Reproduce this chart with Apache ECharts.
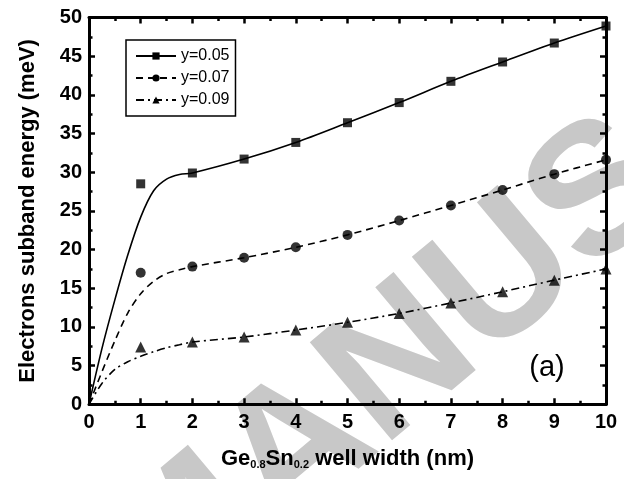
<!DOCTYPE html>
<html><head><meta charset="utf-8">
<script src="https://cdn.jsdelivr.net/npm/echarts@6/dist/echarts.min.js"></script>
<style>html,body{margin:0;padding:0;background:#fff}#c{width:624px;height:479px}</style>
</head><body><div id="c"></div>
<script>
// ---- data ----
const seriesNames = ['y=0.05', 'y=0.07', 'y=0.09'];
const widths = [1, 2, 3, 4, 5, 6, 7, 8, 9, 10];
const markers005 = [28.5, 29.9, 31.7, 33.85, 36.4, 39.0, 41.75, 44.25, 46.7, 48.9];
const markers007 = [17.0, 17.8, 18.95, 20.3, 21.9, 23.75, 25.7, 27.7, 29.75, 31.6];
const markers009 = [7.4, 8.05, 8.7, 9.6, 10.6, 11.75, 13.1, 14.55, 16.05, 17.5];
const curveX = [0, 0.25, 0.5, 0.75, 1, 1.25, 1.5, 1.75, 2, 3, 4, 5, 6, 7, 8, 9, 10];
const curve005 = [0, 7.2, 13.5, 19.3, 24.2, 27.6, 29.1, 29.7, 29.9, 31.7, 33.85, 36.4, 39.0, 41.75, 44.25, 46.7, 48.9];
const curve007 = [0, 4.2, 8.2, 11.8, 14.3, 15.9, 16.9, 17.4, 17.8, 18.95, 20.3, 21.9, 23.75, 25.7, 27.7, 29.75, 31.6];
const curve009 = [0, 2.7, 4.5, 5.5, 6.2, 6.8, 7.3, 7.7, 8.05, 8.7, 9.6, 10.6, 11.75, 13.1, 14.55, 16.05, 17.5];
const xTicks = ['0','1','2','3','4','5','6','7','8','9','10'];
const xAxisTitle = ['Ge', '0.8', 'Sn', '0.2', ' well width (nm)'];
const yAxisTitle = 'Electrons subband energy (meV)';
const panelLabel = '(a)';
const watermark = 'MANUSCRIPT';

// ---- chart ----
const FONT = '"Liberation Sans", Arial, Helvetica, sans-serif';
const pair = (xs, ys) => xs.map((x, i) => [x, ys[i]]);
const curves = [curve005, curve007, curve009];
const marks = [markers005, markers007, markers009];
const symbols = ['rect', 'circle', 'triangle'];
const symSizes = [9, 10, 11];
const dashes = ['solid', [7, 5], [8, 4, 2, 4]];

const axisCommon = {
  type: 'value', min: 0, splitLine: { show: false },
  axisLine: { show: true, onZero: false, lineStyle: { color: '#000', width: 3 } },
  axisTick: { show: true, inside: true, length: 6, lineStyle: { color: '#000', width: 2.5 } },
  minorTick: { show: true, splitNumber: 2, length: 3.5, lineStyle: { color: '#000', width: 2.5 } },
  minorSplitLine: { show: false }
};
const tickFont = { color: '#000', fontFamily: FONT, fontWeight: 'bold', fontSize: 20 };

const series = [];
for (let i = 0; i < 3; i++) {
  series.push({
    name: seriesNames[i], type: 'line', data: pair(curveX, curves[i]),
    smooth: 0.3, showSymbol: false,
    symbol: symbols[i], symbolSize: symSizes[i] - 1,
    lineStyle: { color: '#000', width: 1.6, type: dashes[i] },
    itemStyle: { color: '#000' }, z: 3, silent: true
  });
  series.push({
    name: seriesNames[i] + ' pts', type: 'scatter', data: pair(widths, marks[i]),
    symbol: symbols[i], symbolSize: symSizes[i],
    itemStyle: { color: '#000' }, z: 4, silent: true
  });
}

const WM_F = 186, WM_A = 40 * Math.PI / 180;
const chart = echarts.init(document.getElementById('c'), null, { renderer: 'canvas' });
chart.setOption({
  animation: false,
  backgroundColor: 'transparent',
  grid: { left: 89, right: 18, top: 17.5, bottom: 74.7, containLabel: false },
  legend: {
    data: seriesNames, orient: 'vertical', left: 126, top: 40,
    itemWidth: 40, itemHeight: 9, itemGap: 6,
    padding: [8, 6, 8, 9], borderColor: '#000', borderWidth: 1.5,
    selectedMode: false,
    textStyle: { color: '#000', fontFamily: FONT, fontSize: 16 }
  },
  xAxis: [
    Object.assign({}, axisCommon, {
      position: 'bottom', max: 10, interval: 1,
      axisLabel: Object.assign({ margin: 8, formatter: v => xTicks[Math.round(v)] }, tickFont),
      name: xAxisTitle.map((t, i) => (i % 2 ? '{s|' : '{b|') + t + '}').join(''),
      nameLocation: 'middle', nameGap: 34,
      nameTextStyle: {
        rich: {
          b: { fontFamily: FONT, fontWeight: 'bold', fontSize: 22, color: '#000', lineHeight: 32, verticalAlign: 'bottom' },
          s: { fontFamily: FONT, fontWeight: 'bold', fontSize: 11, color: '#000', lineHeight: 11, verticalAlign: 'bottom' }
        }
      }
    }),
    Object.assign({}, axisCommon, { position: 'top', max: 10, interval: 1, axisLabel: { show: false } })
  ],
  yAxis: [
    Object.assign({}, axisCommon, {
      position: 'left', max: 50, interval: 5,
      axisLabel: Object.assign({ margin: 7 }, tickFont),
      name: yAxisTitle, nameLocation: 'middle', nameGap: 50,
      nameTextStyle: { fontFamily: FONT, fontWeight: 'bold', fontSize: 22, color: '#000' }
    }),
    Object.assign({}, axisCommon, { position: 'right', max: 50, interval: 5, axisLabel: { show: false } })
  ],
  graphic: [
    {
      type: 'text', x: 128, y: 595, rotation: WM_A, z: -100, silent: true,
      style: { text: watermark, font: 'bold ' + WM_F + 'px ' + FONT, fill: '#c8c8c8', textAlign: 'left', textVerticalAlign: 'middle' }
    },
    {
      type: 'text', x: 547, y: 368, z: 10, silent: true,
      style: { text: panelLabel, font: '29px ' + FONT, fill: '#000', textAlign: 'center', textVerticalAlign: 'middle' }
    }
  ],
  series: series
});
</script>
</body></html>
